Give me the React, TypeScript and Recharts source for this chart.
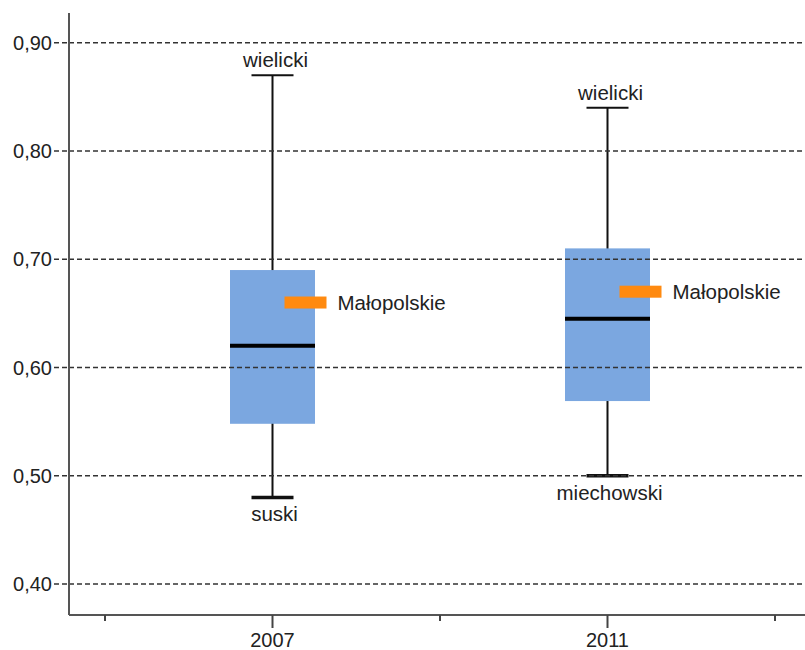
import React from 'react';
import { ComposedChart, Bar, XAxis, YAxis, ReferenceLine } from 'recharts';

const years = ['2007', '2011'];
const whiskerMin = [0.48, 0.5];
const quartile1 = [0.548, 0.569];
const medians = [0.62, 0.645];
const quartile3 = [0.69, 0.71];
const whiskerMax = [0.87, 0.84];
const regionValues = [0.66, 0.67];
const regionName = 'Małopolskie';
const topLabels = ['wielicki', 'wielicki'];
const bottomLabels = ['suski', 'miechowski'];
const yTicks = [0.4, 0.5, 0.6, 0.7, 0.8, 0.9];

const FONT = '"Liberation Sans", Arial, sans-serif';
const BOX_FILL = '#7BA7E0';
const ORANGE = '#FF8A10';

const data = years.map((year, i) => ({
  year,
  pos: i + 1,
  min: whiskerMin[i],
  q1: quartile1[i],
  median: medians[i],
  q3: quartile3[i],
  max: whiskerMax[i],
  region: regionValues[i],
  top: topLabels[i],
  bottom: bottomLabels[i],
}));

const BoxShape = (props: any) => {
  const { x, y, width, height, payload } = props;
  const top = Math.min(y, y + height);
  const h = Math.abs(height);
  const k = h / (payload.max - payload.min);
  const yOf = (v: number) => top + (payload.max - v) * k;
  const cx = x + width / 2;
  const capHalf = 21;
  return (
    <g>
      <line x1={cx} x2={cx} y1={yOf(payload.max)} y2={yOf(payload.min)} stroke="#111" strokeWidth={2} />
      <line x1={cx - capHalf} x2={cx + capHalf} y1={yOf(payload.max)} y2={yOf(payload.max)} stroke="#111" strokeWidth={2} />
      <line x1={cx - capHalf} x2={cx + capHalf} y1={yOf(payload.min)} y2={yOf(payload.min)} stroke="#111" strokeWidth={3.5} />
      <rect x={x} y={yOf(payload.q3)} width={width} height={yOf(payload.q1) - yOf(payload.q3)} fill={BOX_FILL} />
      <line x1={x} x2={x + width} y1={yOf(payload.median)} y2={yOf(payload.median)} stroke="#000" strokeWidth={4} />
      <rect x={cx + 12} y={yOf(payload.region) - 6} width={42} height={12} fill={ORANGE} />
      <text x={cx + 65} y={yOf(payload.region) + 7} fontSize={20.5} fill="#222" fontFamily={FONT}>
        {regionName}
      </text>
      <text x={cx + 3} y={yOf(payload.max) - 8} fontSize={20.5} fill="#222" textAnchor="middle" fontFamily={FONT}>
        {payload.top}
      </text>
      <text x={cx + 2} y={yOf(payload.min) + 24} fontSize={20.5} fill="#222" textAnchor="middle" fontFamily={FONT}>
        {payload.bottom}
      </text>
    </g>
  );
};

const XTick = (props: any) => {
  const { x, y, payload } = props;
  const v = payload.value;
  const major = Number.isInteger(v);
  return (
    <g>
      <line x1={x} x2={x} y1={y} y2={y + (major ? 13 : 6)} stroke="#444" strokeWidth={2} />
      {major && (
        <text x={x} y={y + 32} textAnchor="middle" fontSize={20} fill="#222" fontFamily={FONT}>
          {years[v - 1]}
        </text>
      )}
    </g>
  );
};

export default function App() {
  return (
    <div style={{ position: 'absolute', left: 0, top: 0, width: 805, height: 650, overflow: 'hidden', background: '#fff' }}>
      <ComposedChart width={810} height={650} data={data} margin={{ top: 13, right: 0, left: 0, bottom: 0 }}>
        <XAxis
          type="number"
          dataKey="pos"
          domain={[0.5, 2.5]}
          ticks={[0.5, 1, 1.5, 2, 2.5]}
          padding={{ left: 36, right: 35 }}
          height={35}
          tickSize={0}
          tickMargin={0}
          tickLine={false}
          tick={<XTick />}
          axisLine={{ stroke: '#555', strokeWidth: 2 }}
          interval={0}
        />
        <YAxis
          type="number"
          domain={[0.3714, 0.9274]}
          ticks={yTicks}
          width={69}
          tickSize={15}
          tickMargin={2}
          tickFormatter={(v: number) => v.toFixed(2).replace('.', ',')}
          tick={{ fontSize: 20, fill: '#222', fontFamily: FONT }}
          tickLine={{ stroke: '#333', strokeDasharray: '5 3', strokeWidth: 1.5 }}
          axisLine={{ stroke: '#555', strokeWidth: 2 }}
          interval={0}
        />
        {yTicks.map((t) => (
          <ReferenceLine key={t} y={t} stroke="#333" strokeDasharray="5 3" strokeWidth={1.5} />
        ))}
        <Bar dataKey={(d: any) => [d.min, d.max]} barSize={85} shape={<BoxShape />} isAnimationActive={false} />
      </ComposedChart>
    </div>
  );
}
